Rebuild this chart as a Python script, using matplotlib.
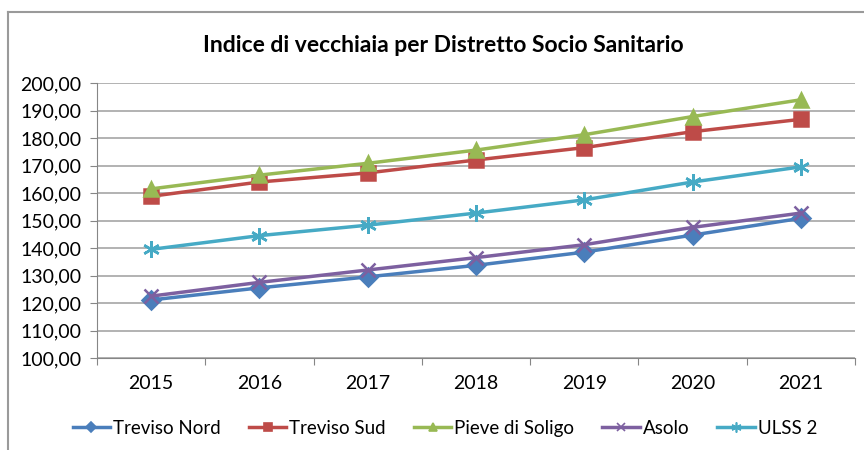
import matplotlib.pyplot as plt
from matplotlib.lines import Line2D

plt.rcParams['font.family'] = ['Lato', 'DejaVu Sans']

anni = ['2015', '2016', '2017', '2018', '2019', '2020', '2021']
treviso_nord = [121.1, 125.5, 129.5, 133.7, 138.5, 144.7, 150.8]
treviso_sud = [158.8, 164.0, 167.3, 172.0, 176.5, 182.3, 186.8]
pieve_di_soligo = [161.5, 166.5, 170.8, 175.6, 181.2, 187.8, 193.9]
asolo = [122.5, 127.5, 132.0, 136.5, 141.2, 147.5, 152.7]
ulss2 = [139.5, 144.5, 148.3, 152.7, 157.5, 164.0, 169.5]

serie = [
    ('Treviso Nord', treviso_nord, '#4A7EBB', 'D', 9),
    ('Treviso Sud', treviso_sud, '#BE4B48', 's', 9.5),
    ('Pieve di Soligo', pieve_di_soligo, '#98B954', '^', 10),
    ('Asolo', asolo, '#7D60A0', 'x', 10),
    ('ULSS 2', ulss2, '#46AAC5', (6, 2, 0), 12),
]

fig = plt.figure(figsize=(8.64, 4.5), dpi=100)
ax = fig.add_axes([97 / 864, 92 / 450, 758 / 864, 275 / 450])

x = list(range(len(anni)))
handles = []
for nome, valori, colore, marker, ms in serie:
    ax.plot(x, valori, color=colore, lw=2.5, marker=marker, ms=ms,
            mec=colore, mew=1.8, label=nome)
    handles.append(Line2D([0], [0], color=colore, lw=2.5, marker=marker,
                          ms=ms * 0.6, mec=colore, mew=1.2, label=nome))

ax.set_xlim(-0.5, len(anni) - 0.5)
ax.set_ylim(100, 200)
ax.set_yticks(range(100, 201, 10))
ax.set_yticklabels([f'{v},00' for v in range(100, 201, 10)], fontsize=14)
ax.set_xticks([i - 0.5 for i in range(len(anni) + 1)])
ax.set_xticklabels([])
ax.set_xticks(x, minor=True)
ax.set_xticklabels(anni, minor=True, fontsize=14)
ax.tick_params(axis='x', which='minor', length=0, pad=12)
ax.tick_params(axis='x', which='major', length=5, color='#868686')
ax.tick_params(axis='y', length=5, color='#868686', pad=6)
ax.grid(axis='y', color='#A6A6A6', lw=1.2)
ax.set_axisbelow(True)
for s in ['top', 'right']:
    ax.spines[s].set_visible(False)
ax.spines['left'].set_color('#868686')
ax.spines['bottom'].set_color('#868686')

fig.text(0.513, 0.9, 'Indice di vecchiaia per Distretto Socio Sanitario',
         ha='center', va='center', fontsize=16.5, fontweight='bold')

fig.legend(handles=handles, loc='center', bbox_to_anchor=(0.515, 0.048),
           ncol=5, frameon=False, fontsize=13.5, handlelength=2.0,
           handletextpad=0.15, columnspacing=1.5)

# bordo del grafico
fig.add_artist(Line2D([8 / 864, 8 / 864], [0, 1 - 12 / 450], color='#9A9A9A',
                      lw=1.5, transform=fig.transFigure))
fig.add_artist(Line2D([8 / 864, 1], [1 - 12 / 450, 1 - 12 / 450], color='#9A9A9A',
                      lw=1.5, transform=fig.transFigure))

fig.savefig('out.png', dpi=100)
